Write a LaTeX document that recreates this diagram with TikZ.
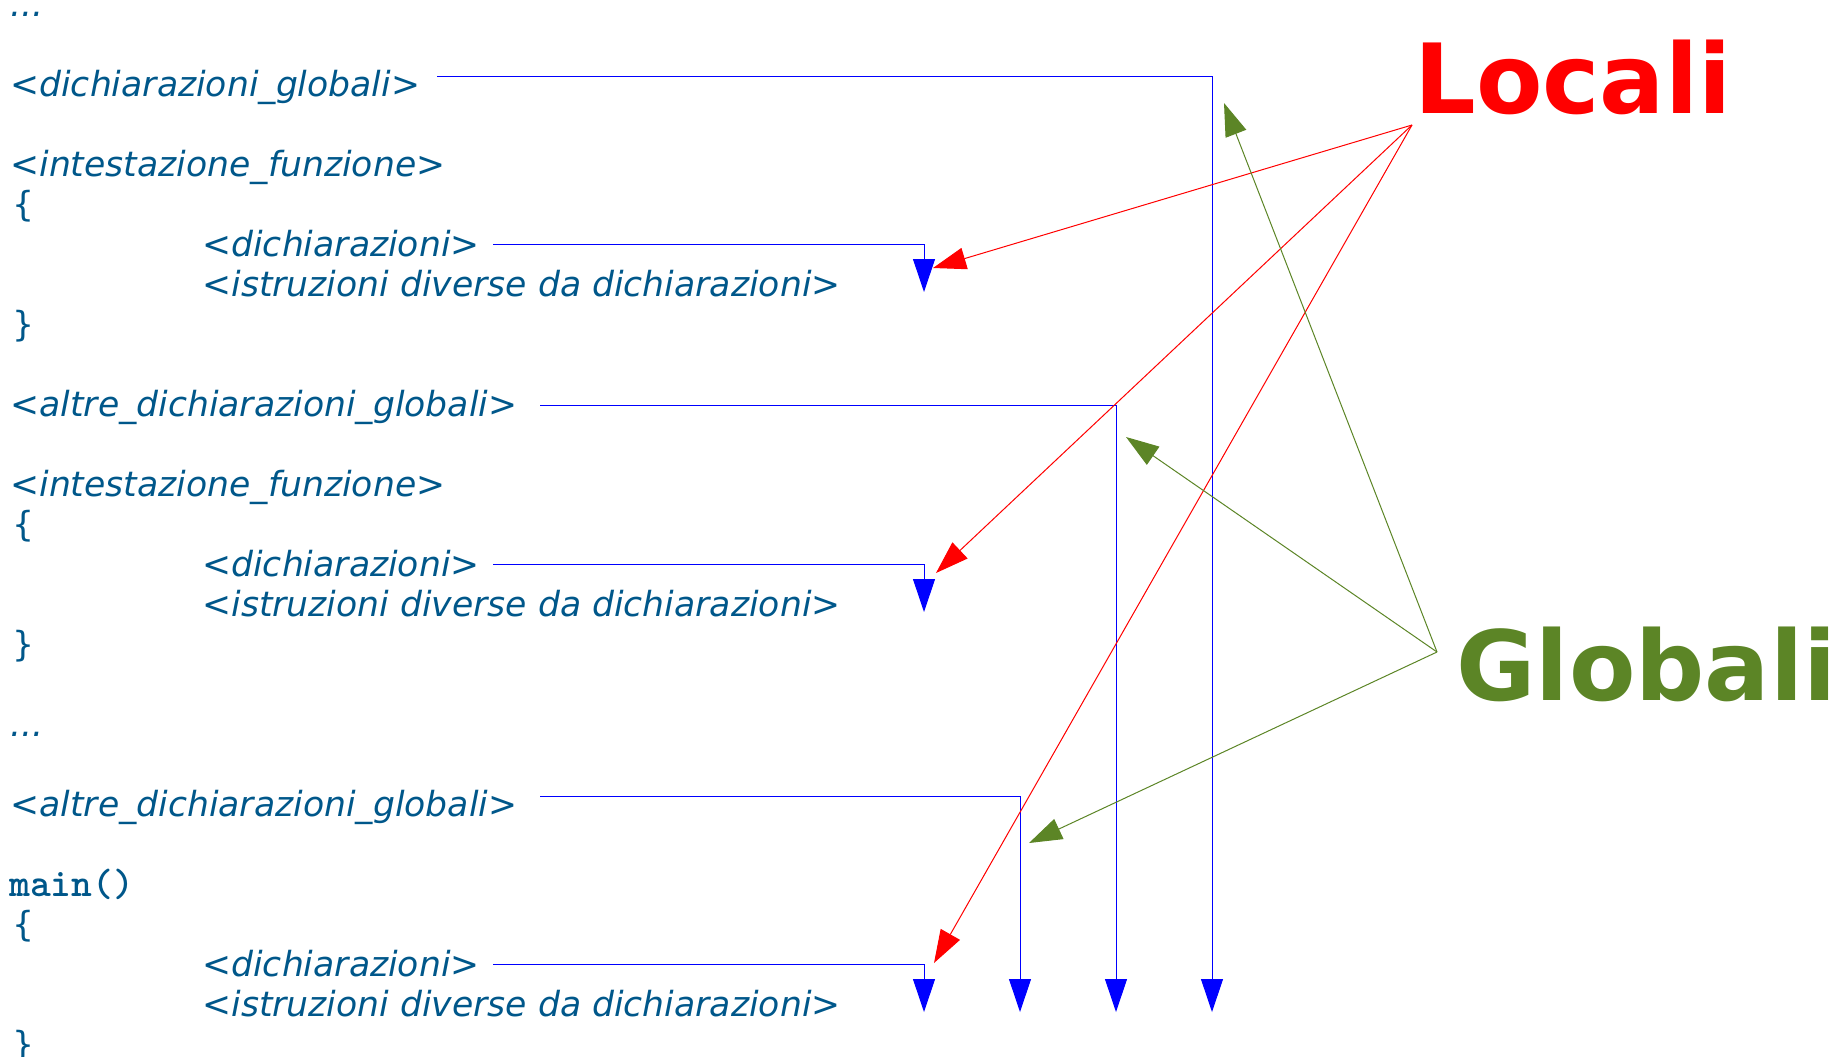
\documentclass[tikz,border=0pt]{standalone}
\usepackage{fontspec}
\setmainfont{DejaVu Sans}
\usetikzlibrary{arrows.meta}
\definecolor{codeblue}{HTML}{00578A}
\definecolor{lineblue}{HTML}{0000FF}
\definecolor{locred}{HTML}{FF0000}
\definecolor{globgreen}{HTML}{5C8526}
\tikzset{
  code/.style={anchor=base west, inner sep=0pt, text=codeblue, font=\fontsize{17.3}{20}\selectfont\itshape},
  brace/.style={anchor=base west, inner sep=0pt, text=codeblue, font=\fontsize{17.3}{20}\selectfont},
  codemain/.style={anchor=base west, inner sep=0pt, text=codeblue, font=\fontsize{19.8}{20}\selectfont\ttfamily\bfseries},
  bluelink/.style={draw=lineblue, line width=0.5pt, -{Triangle[length=16.5pt,width=11pt]}},
  redlink/.style={draw=locred, line width=0.5pt, -{Triangle[length=16.5pt,width=11pt]}},
  greenlink/.style={draw=globgreen, line width=0.5pt, -{Triangle[length=16.5pt,width=11pt]}},
  biglabel/.style={anchor=base west, inner sep=0pt, font=\fontsize{48.4}{55}\selectfont\bfseries}
}
\begin{document}
\begin{tikzpicture}[x=0.5pt,y=-0.5pt]
\useasboundingbox (0,0) rectangle (1842,1056);
% code lines
\node[code] (t0)  at (10,16)   {...};
\node[code] (t2)  at (10,96)   {<dichiarazioni\_globali>};
\node[code] (t4)  at (10,176)  {<intestazione\_funzione>};
\node[brace] (t5)  at (12,216)  {\{};
\node[code] (t6)  at (202,256) {<dichiarazioni>};
\node[code] (t7)  at (202,296) {<istruzioni diverse da dichiarazioni>};
\node[brace] (t8)  at (12,336)  {\}};
\node[code] (t10) at (10,416)  {<altre\_dichiarazioni\_globali>};
\node[code] (t12) at (10,496)  {<intestazione\_funzione>};
\node[brace] (t13) at (12,536)  {\{};
\node[code] (t14) at (202,576) {<dichiarazioni>};
\node[code] (t15) at (202,616) {<istruzioni diverse da dichiarazioni>};
\node[brace] (t16) at (12,656)  {\}};
\node[code] (t18) at (10,736)  {...};
\node[code] (t20) at (10,816)  {<altre\_dichiarazioni\_globali>};
\node[codemain] (t22) at (9,896) {main()};
\node[brace] (t23) at (12,936)  {\{};
\node[code] (t24) at (202,976) {<dichiarazioni>};
\node[code] (t25) at (202,1016) {<istruzioni diverse da dichiarazioni>};
\node[brace] (t26) at (12,1056) {\}};
% labels
\node[biglabel, text=locred] (loc) at (1414,113) {Locali};
\node[biglabel, text=globgreen] (glob) at (1456,700) {Globali};
% connector points
\coordinate (g1s) at (437,76.5);
\coordinate (g1e) at (1212,1012);
\coordinate (g2s) at (540,405);
\coordinate (g2e) at (1116,1012);
\coordinate (g3s) at (540,796.5);
\coordinate (g3e) at (1020,1012);
\coordinate (l1s) at (493,244);
\coordinate (l1e) at (924,292);
\coordinate (l2s) at (493,564);
\coordinate (l2e) at (924,612);
\coordinate (l3s) at (493,964);
\coordinate (l3e) at (924,1012);
\coordinate (lsrc) at (1412,125);
\coordinate (gsrc) at (1437,652);
\coordinate (r1) at (933,268);
\coordinate (r2) at (936,573);
\coordinate (r3) at (934,963);
\coordinate (v1) at (1224,103);
\coordinate (v2) at (1126,437);
\coordinate (v3) at (1029,843);
% blue connectors
\draw[bluelink] (g1s) -| (g1e);
\draw[bluelink] (g2s) -| (g2e);
\draw[bluelink] (g3s) -| (g3e);
\draw[bluelink] (l1s) -| (l1e);
\draw[bluelink] (l2s) -| (l2e);
\draw[bluelink] (l3s) -| (l3e);
% red arrows
\draw[redlink] (lsrc) -- (r1);
\draw[redlink] (lsrc) -- (r2);
\draw[redlink] (lsrc) -- (r3);
% green arrows
\draw[greenlink] (gsrc) -- (v1);
\draw[greenlink] (gsrc) -- (v2);
\draw[greenlink] (gsrc) -- (v3);
\end{tikzpicture}
\end{document}
